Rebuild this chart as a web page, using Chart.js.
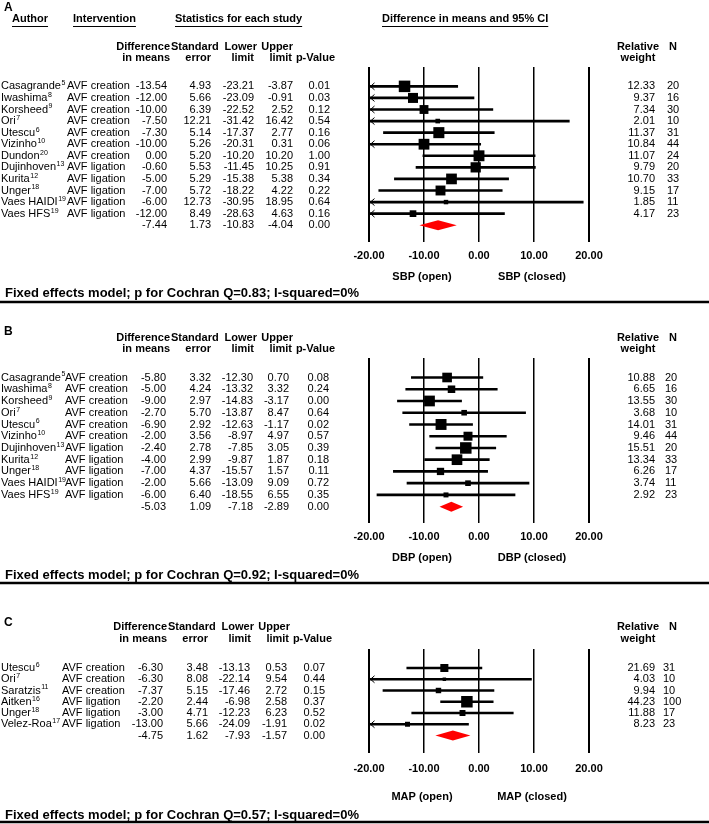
<!DOCTYPE html>
<html>
<head>
<meta charset="utf-8">
<title>Forest plot</title>
<script src="https://cdn.jsdelivr.net/npm/chart.js@4.4.0/dist/chart.umd.min.js"></script>
<style>
body { margin: 0; background: #fff; }
#lienzo { position: relative; width: 709px; height: 824px; }
canvas { position: absolute; left: 0; }
</style>
</head>
<body>
<div id="lienzo">
<canvas id="chartA" width="709" height="304" style="top:0px"></canvas>
<canvas id="chartB" width="709" height="282" style="top:304px"></canvas>
<canvas id="chartC" width="709" height="238" style="top:586px"></canvas>
</div>
<script>
// ---- PANEL A (SBP) ----
var autoresA = ['Casagrande', 'Iwashima', 'Korsheed', 'Ori', 'Utescu', 'Vizinho', 'Dundon', 'Dujinhoven', 'Kurita', 'Unger', 'Vaes HAIDI', 'Vaes HFS'];
var refsA = ['5', '8', '9', '7', '6', '10', '20', '13', '12', '18', '19', '19'];
var intervA = ['AVF creation', 'AVF creation', 'AVF creation', 'AVF creation', 'AVF creation', 'AVF creation', 'AVF creation', 'AVF ligation', 'AVF ligation', 'AVF ligation', 'AVF ligation', 'AVF ligation'];
var difA = [-13.54, -12.00, -10.00, -7.50, -7.30, -10.00, 0.00, -0.60, -5.00, -7.00, -6.00, -12.00];
var seA = [4.93, 5.66, 6.39, 12.21, 5.14, 5.26, 5.20, 5.53, 5.29, 5.72, 12.73, 8.49];
var infA = [-23.21, -23.09, -22.52, -31.42, -17.37, -20.31, -10.20, -11.45, -15.38, -18.22, -30.95, -28.63];
var supA = [-3.87, -0.91, 2.52, 16.42, 2.77, 0.31, 10.20, 10.25, 5.38, 4.22, 18.95, 4.63];
var pA = [0.01, 0.03, 0.12, 0.54, 0.16, 0.06, 1.00, 0.91, 0.34, 0.22, 0.64, 0.16];
var pesoA = [12.33, 9.37, 7.34, 2.01, 11.37, 10.84, 11.07, 9.79, 10.70, 9.15, 1.85, 4.17];
var nA = [20, 16, 30, 10, 31, 44, 24, 20, 33, 17, 11, 23];
var resumenA = [-7.44, 1.73, -10.83, -4.04, 0.00];

// ---- PANEL B (DBP) ----
var autoresB = ['Casagrande', 'Iwashima', 'Korsheed', 'Ori', 'Utescu', 'Vizinho', 'Dujinhoven', 'Kurita', 'Unger', 'Vaes HAIDI', 'Vaes HFS'];
var refsB = ['5', '8', '9', '7', '6', '10', '13', '12', '18', '19', '19'];
var intervB = ['AVF creation', 'AVF creation', 'AVF creation', 'AVF creation', 'AVF creation', 'AVF creation', 'AVF ligation', 'AVF ligation', 'AVF ligation', 'AVF ligation', 'AVF ligation'];
var difB = [-5.80, -5.00, -9.00, -2.70, -6.90, -2.00, -2.40, -4.00, -7.00, -2.00, -6.00];
var seB = [3.32, 4.24, 2.97, 5.70, 2.92, 3.56, 2.78, 2.99, 4.37, 5.66, 6.40];
var infB = [-12.30, -13.32, -14.83, -13.87, -12.63, -8.97, -7.85, -9.87, -15.57, -13.09, -18.55];
var supB = [0.70, 3.32, -3.17, 8.47, -1.17, 4.97, 3.05, 1.87, 1.57, 9.09, 6.55];
var pB = [0.08, 0.24, 0.00, 0.64, 0.02, 0.57, 0.39, 0.18, 0.11, 0.72, 0.35];
var pesoB = [10.88, 6.65, 13.55, 3.68, 14.01, 9.46, 15.51, 13.34, 6.26, 3.74, 2.92];
var nB = [20, 16, 30, 10, 31, 44, 20, 33, 17, 11, 23];
var resumenB = [-5.03, 1.09, -7.18, -2.89, 0.00];

// ---- PANEL C (MAP) ----
var autoresC = ['Utescu', 'Ori', 'Saratzis', 'Aitken', 'Unger', 'Velez-Roa'];
var refsC = ['6', '7', '11', '16', '18', '17'];
var intervC = ['AVF creation', 'AVF creation', 'AVF creation', 'AVF ligation', 'AVF ligation', 'AVF ligation'];
var difC = [-6.30, -6.30, -7.37, -2.20, -3.00, -13.00];
var seC = [3.48, 8.08, 5.15, 2.44, 4.71, 5.66];
var infC = [-13.13, -22.14, -17.46, -6.98, -12.23, -24.09];
var supC = [0.53, 9.54, 2.72, 2.58, 6.23, -1.91];
var pC = [0.07, 0.44, 0.15, 0.37, 0.52, 0.02];
var pesoC = [21.69, 4.03, 9.94, 44.23, 11.88, 8.23];
var nC = [31, 10, 10, 100, 17, 23];
var resumenC = [-4.75, 1.62, -7.93, -1.57, 0.00];

var ticksX = [-20, -10, 0, 10, 20];

var FUENTE = '"Liberation Sans", Arial, Helvetica, sans-serif';

// tamaño del cuadrado segun el peso relativo (lado ~ raiz del peso)
function radios(pesos) {
  var max = Math.max.apply(null, pesos);
  return pesos.map(function (w) { return 11.5 * Math.sqrt(w / max) / Math.SQRT2; });
}

function dibujarTabla(chart, P) {
  var c = chart.ctx, x = chart.scales.x, y = chart.scales.y;
  var n = P.autores.length;
  var dx = P.dx;
  c.save();
  c.fillStyle = '#000';
  c.strokeStyle = '#000';
  c.textBaseline = 'middle';

  c.font = 'bold 12px ' + FUENTE;
  c.textAlign = 'left';
  c.fillText(P.letra, 4, P.letraY);

  // titulos subrayados (solo panel A)
  if (P.titulos) {
    c.font = 'bold 11px ' + FUENTE;
    P.titulos.forEach(function (t) {
      c.fillText(t[0], t[1], t[2]);
      var w = c.measureText(t[0]).width;
      c.lineWidth = 1;
      c.beginPath();
      c.moveTo(t[1], t[2] + 7.5);
      c.lineTo(t[1] + w, t[2] + 7.5);
      c.stroke();
    });
  }

  // cabeceras de columnas
  c.font = 'bold 11px ' + FUENTE;
  c.textAlign = 'right';
  c.fillText('Difference', 170 + dx, P.cab1);
  c.fillText('in means', 170 + dx, P.cab2);
  c.textAlign = 'left';
  c.fillText('Standard', 171 + dx, P.cab1);
  c.textAlign = 'right';
  c.fillText('error', 211 + dx, P.cab2);
  c.fillText('Lower', 257 + dx, P.cab1);
  c.fillText('limit', 254 + dx, P.cab2);
  c.fillText('Upper', 293 + dx, P.cab1);
  c.fillText('limit', 292 + dx, P.cab2);
  c.fillText('p-Value', 335 + dx, P.cab2);
  c.textAlign = 'center';
  c.fillText('Relative', 638, P.cab1);
  c.fillText('weight', 638, P.cab2);
  c.textAlign = 'left';
  c.fillText('N', 669, P.cab1);

  // filas de estudios
  for (var i = 0; i < n; i++) {
    var yy = y.getPixelForValue(i);
    c.font = '11px ' + FUENTE;
    c.textAlign = 'left';
    c.fillText(P.autores[i], 1, yy);
    var w = c.measureText(P.autores[i]).width;
    c.font = '7px ' + FUENTE;
    c.fillText(P.refs[i], 1.5 + w, yy - 3);
    c.font = '11px ' + FUENTE;
    c.fillText(P.interv[i], P.colInt, yy);
    c.fillText(String(P.n[i]), P.colN, yy);
    c.textAlign = 'right';
    c.fillText(P.dif[i].toFixed(2), P.cols[0], yy);
    c.fillText(P.se[i].toFixed(2), P.cols[1], yy);
    c.fillText(P.inf[i].toFixed(2), P.cols[2], yy);
    c.fillText(P.sup[i].toFixed(2), P.cols[3], yy);
    c.fillText(P.p[i].toFixed(2), P.cols[4], yy);
    c.fillText(P.peso[i].toFixed(2), 655, yy);
  }
  // fila resumen
  var ys = y.getPixelForValue(n);
  c.font = '11px ' + FUENTE;
  c.textAlign = 'right';
  for (var k = 0; k < 5; k++) {
    c.fillText(P.resumen[k].toFixed(2), P.cols[k], ys);
  }

  // titulos bajo el eje
  c.font = 'bold 11px ' + FUENTE;
  c.textAlign = 'center';
  c.fillText(P.eje + ' (open)', x.getPixelForValue(-10) - 2, P.ejeY);
  c.fillText(P.eje + ' (closed)', x.getPixelForValue(10) - 2, P.ejeY);

  // pie
  c.font = 'bold 13px ' + FUENTE;
  c.textAlign = 'left';
  c.fillText(P.pie, 5, P.pieY);
  c.lineWidth = 2.5;
  c.beginPath();
  c.moveTo(0, P.lineaY);
  c.lineTo(709, P.lineaY);
  c.stroke();
  c.restore();
}

function dibujarMarcas(chart, P) {
  var c = chart.ctx, x = chart.scales.x, y = chart.scales.y;
  var n = P.autores.length;
  c.save();
  // flechas cuando el IC se sale del eje
  c.strokeStyle = '#000';
  c.lineWidth = 1;
  for (var i = 0; i < n; i++) {
    var yy = y.getPixelForValue(i);
    if (P.inf[i] < x.min) {
      c.beginPath();
      c.moveTo(x.left + 5.5, yy - 3.5);
      c.lineTo(x.left + 1.5, yy);
      c.lineTo(x.left + 5.5, yy + 3.5);
      c.stroke();
    }
    if (P.sup[i] > x.max) {
      c.beginPath();
      c.moveTo(x.right - 5.5, yy - 3.5);
      c.lineTo(x.right - 1.5, yy);
      c.lineTo(x.right - 5.5, yy + 3.5);
      c.stroke();
    }
  }
  // rombo del efecto combinado
  var ys = y.getPixelForValue(n);
  var a = x.getPixelForValue(P.resumen[2]);
  var m = x.getPixelForValue(P.resumen[0]);
  var b = x.getPixelForValue(P.resumen[3]);
  c.fillStyle = '#ff0000';
  c.beginPath();
  c.moveTo(a, ys);
  c.lineTo(m, ys - 5);
  c.lineTo(b, ys);
  c.lineTo(m, ys + 5);
  c.closePath();
  c.fill();
  c.restore();
}

function crearPanel(id, P) {
  var n = P.autores.length;
  var filas = [];
  for (var i = 0; i < n; i++) filas.push(i);
  var yMin = (P.arriba - P.fila0) / P.paso;
  var yMax = n + (P.abajo - (P.fila0 + n * P.paso)) / P.paso;
  var r = radios(P.peso);
  var ctx = document.getElementById(id).getContext('2d');

  return new Chart(ctx, {
    type: 'scatter',
    data: {
      datasets: [{
        type: 'bar',
        indexAxis: 'y',
        order: 2,
        grouped: false,
        barThickness: 2,
        backgroundColor: '#000',
        borderWidth: 0,
        data: filas.map(function (i) { return { x: [P.inf[i], P.sup[i]], y: i }; })
      }, {
        type: 'scatter',
        order: 1,
        pointStyle: 'rect',
        pointRadius: r,
        pointHoverRadius: r,
        backgroundColor: '#000',
        borderWidth: 0,
        data: filas.map(function (i) { return { x: P.dif[i], y: i }; })
      }]
    },
    options: {
      responsive: false,
      animation: false,
      devicePixelRatio: 1,
      events: [],
      layout: { padding: { left: 369, right: 120, top: P.arriba, bottom: P.alto - P.abajo - 28 } },
      plugins: { legend: { display: false }, tooltip: { enabled: false } },
      scales: {
        x: {
          type: 'linear',
          position: 'bottom',
          min: ticksX[0],
          max: ticksX[ticksX.length - 1],
          afterBuildTicks: function (s) { s.ticks = ticksX.map(function (v) { return { value: v }; }); },
          afterFit: function (s) { s.height = 28; },
          ticks: {
            padding: P.tickPad,
            color: '#000',
            maxRotation: 0,
            autoSkip: false,
            font: { family: FUENTE, size: 11, weight: 'bold' },
            callback: function (v) { return Number(v).toFixed(2); }
          },
          grid: {
            color: '#000',
            drawTicks: false,
            lineWidth: function (c) { return (c.tick && Math.abs(c.tick.value) === 20) ? 2 : 1.5; }
          },
          border: { display: false }
        },
        y: { type: 'linear', display: false, reverse: true, min: yMin, max: yMax }
      }
    },
    plugins: [{
      id: 'forest' + id,
      afterDatasetsDraw: function (chart) { dibujarMarcas(chart, P); },
      afterDraw: function (chart) { dibujarTabla(chart, P); }
    }]
  });
}

crearPanel('chartA', {
  autores: autoresA, refs: refsA, interv: intervA, dif: difA, se: seA, inf: infA, sup: supA,
  p: pA, peso: pesoA, n: nA, resumen: resumenA,
  letra: 'A', letraY: 8, eje: 'SBP',
  pie: 'Fixed effects model; p for Cochran Q=0.83; I-squared=0%',
  titulos: [['Author', 12, 19], ['Intervention', 73, 19], ['Statistics for each study', 175, 19], ['Difference in means and 95% CI', 382, 19]],
  alto: 304, arriba: 67, fila0: 75, paso: 13.5, abajo: 242, tickPad: 7,
  cab1: 47, cab2: 58, ejeY: 277, pieY: 293, lineaY: 302,
  dx: 0, colInt: 67, colN: 667, cols: [167, 211, 254, 293, 330]
});

crearPanel('chartB', {
  autores: autoresB, refs: refsB, interv: intervB, dif: difB, se: seB, inf: infB, sup: supB,
  p: pB, peso: pesoB, n: nB, resumen: resumenB,
  letra: 'B', letraY: 28, eje: 'DBP',
  pie: 'Fixed effects model; p for Cochran Q=0.92; I-squared=0%',
  titulos: null,
  alto: 282, arriba: 54, fila0: 63, paso: 13.7, abajo: 219, tickPad: 7,
  cab1: 34, cab2: 45, ejeY: 254, pieY: 271, lineaY: 279,
  dx: 0, colInt: 65, colN: 665, cols: [166, 211, 253, 289, 329]
});

crearPanel('chartC', {
  autores: autoresC, refs: refsC, interv: intervC, dif: difC, se: seC, inf: infC, sup: supC,
  p: pC, peso: pesoC, n: nC, resumen: resumenC,
  letra: 'C', letraY: 37, eje: 'MAP',
  pie: 'Fixed effects model; p for Cochran Q=0.57; I-squared=0%',
  titulos: null,
  alto: 238, arriba: 63, fila0: 71, paso: 15, abajo: 167, tickPad: 9,
  cab1: 41, cab2: 53, ejeY: 211, pieY: 229, lineaY: 236,
  dx: -3, colInt: 62, colN: 663, cols: [163, 208, 250, 287, 325]
});
</script>
</body>
</html>
